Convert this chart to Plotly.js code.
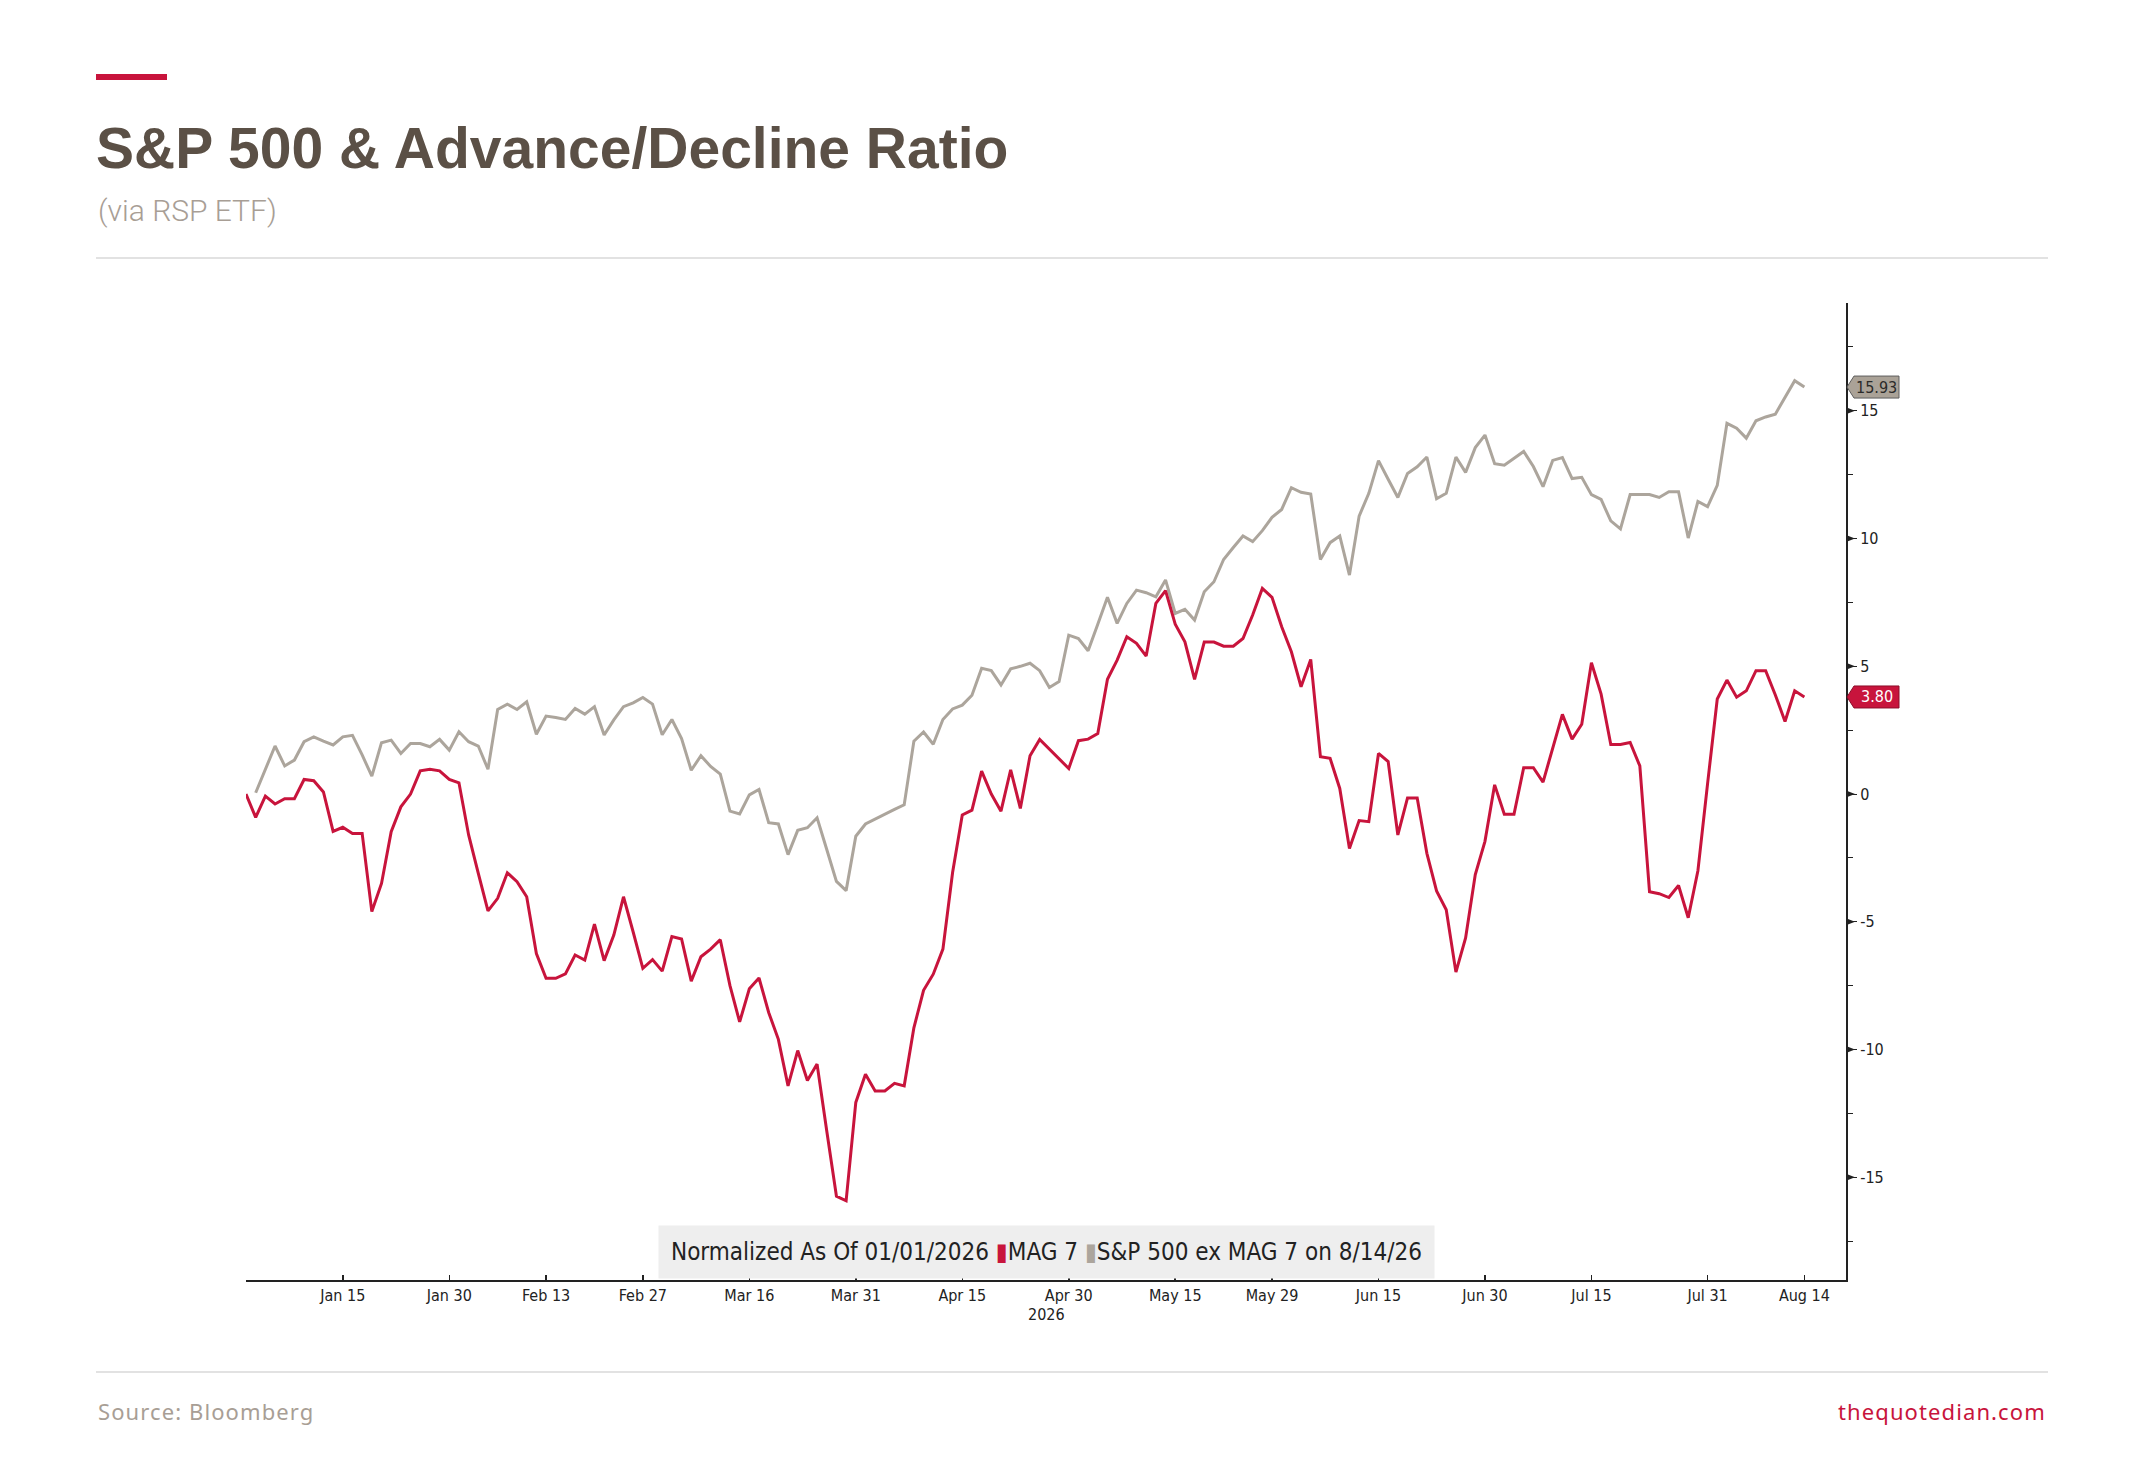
<!DOCTYPE html>
<html>
<head>
<meta charset="utf-8">
<script src="https://cdn.plot.ly/plotly-3.0.1.min.js"></script>
<style>
  html, body { margin: 0; padding: 0; background: #fff; }
  #chart { width: 2145px; height: 1458px; }
</style>
</head>
<body>
<div id="chart"></div>
<script>
// ── Data: normalized % change since 01/01/2026, one value per weekday ──
const mag7 = [
   0.00, -0.91, -0.08, -0.39, -0.18, -0.18,  0.57,  0.52,  0.08, -1.46,
  -1.30, -1.54, -1.54, -4.60, -3.50, -1.47, -0.50,  0.00,  0.91,  0.97,
   0.91,  0.57,  0.44, -1.60, -3.10, -4.57, -4.08, -3.08, -3.43, -4.02,
  -6.24, -7.21, -7.21, -7.04, -6.30, -6.50, -5.09, -6.52, -5.52, -4.02,
  -5.40, -6.82, -6.48, -6.93, -5.58, -5.67, -7.32, -6.37, -6.07, -5.70,
  -7.50, -8.92, -7.62, -7.20, -8.55, -9.60,-11.42,-10.04,-11.21,-10.57,
 -13.19,-15.74,-15.92,-12.07,-10.97,-11.62,-11.62,-11.32,-11.42, -9.15,
  -7.68, -7.05, -6.07, -3.07, -0.82, -0.63,  0.90,  0.00, -0.67,  0.95,
  -0.56,  1.50,  2.14,  1.76,  1.38,  1.00,  2.09,  2.15,  2.37,  4.49,
   5.24,  6.16,  5.90,  5.40,  7.46,  7.96,  6.65,  5.96,  4.49,  5.95,
   5.95,  5.79,  5.79,  6.09,  7.01,  8.05,  7.70,  6.55,  5.57,  4.20,
   5.27,  1.46,  1.40,  0.22, -2.13, -1.04, -1.08,  1.59,  1.27, -1.60,
  -0.15, -0.15, -2.32, -3.79, -4.53, -6.97, -5.63, -3.15, -1.85,  0.36,
  -0.79, -0.79,  1.03,  1.03,  0.47,  1.83,  3.12,  2.15,  2.73,  5.14,
   3.91,  1.94,  1.94,  2.02,  1.10, -3.82, -3.90, -4.05, -3.58, -4.84,
  -3.00,  0.41,  3.72,  4.46,  3.79,  4.04,  4.83,  4.83,  3.88,  2.84,
   4.04,  3.80
];
const exMag7 = [
   null,  0.05,  0.97,  1.88,  1.10,  1.33,  2.05,  2.24,  2.07,  1.92,
   2.24,  2.30,  1.53,  0.70,  2.01,  2.11,  1.59,  1.98,  1.98,  1.85,
   2.14,  1.72,  2.44,  2.05,  1.88,  0.97,  3.31,  3.52,  3.31,  3.61,
   2.34,  3.05,  3.00,  2.92,  3.35,  3.13,  3.42,  2.31,  2.90,  3.42,
   3.57,  3.78,  3.52,  2.32,  2.92,  2.17,  0.93,  1.50,  1.08,  0.78,
  -0.67, -0.78, -0.03,  0.18, -1.12, -1.17, -2.37, -1.42, -1.32, -0.93,
  -2.17, -3.42, -3.78, -1.65, -1.17, -0.97, -0.78, -0.60, -0.42,  2.07,
   2.43,  1.95,  2.92,  3.33,  3.48,  3.87,  4.92,  4.83,  4.27,  4.90,
   5.00,  5.12,  4.83,  4.17,  4.40,  6.22,  6.09,  5.61,  6.65,  7.70,
   6.68,  7.46,  7.98,  7.88,  7.72,  8.38,  7.07,  7.23,  6.81,  7.92,
   8.31,  9.18,  9.65, 10.10,  9.88, 10.31, 10.83, 11.14, 11.99, 11.81,
  11.74,  9.18,  9.84, 10.10,  8.57, 10.88, 11.77, 13.05, 12.32, 11.61,
  12.55, 12.81, 13.19, 11.56, 11.77, 13.19, 12.59, 13.56, 14.05, 12.93,
  12.87, 13.14, 13.41, 12.82, 12.03, 13.06, 13.17, 12.35, 12.40, 11.72,
  11.53, 10.69, 10.38, 11.72, 11.72, 11.72, 11.61, 11.83, 11.83, 10.02,
  11.45, 11.25, 12.08, 14.51, 14.32, 13.93, 14.61, 14.76, 14.87, 15.54,
  16.18, 15.93
];

// x categories: every weekday from Jan 1 to Aug 14, 2026
const dates = [];
for (let d = new Date(Date.UTC(2026, 0, 1)); d <= new Date(Date.UTC(2026, 7, 14)); d.setUTCDate(d.getUTCDate() + 1)) {
  const wd = d.getUTCDay();
  if (wd !== 0 && wd !== 6) dates.push(d.toISOString().slice(0, 10));
}

const tickDates  = ['2026-01-15','2026-01-30','2026-02-13','2026-02-27','2026-03-16','2026-03-31','2026-04-15',
                    '2026-04-30','2026-05-15','2026-05-29','2026-06-15','2026-06-30','2026-07-15','2026-07-31','2026-08-14'];
const tickLabels = ['Jan 15','Jan 30','Feb 13','Feb 27','Mar 16','Mar 31','Apr 15',
                    'Apr 30','May 15','May 29','Jun 15','Jun 30','Jul 15','Jul 31','Aug 14'];
const yearLabel = '2026';
const yTicks = [-15, -10, -5, 0, 5, 10, 15];

// ── Styling ─────────────────────────────────────────────────────────────
const RED = '#c8143c', GREY = '#aca59c', INK = '#222222';
const AX_FONT = 'DejaVu Sans Condensed, Liberation Sans Narrow, DejaVu Sans, sans-serif';
const W = 2145, H = 1458;
const M = { l: 246, r: 299, t: 303, b: 178 };
const plotW = W - M.l - M.r, plotH = H - M.t - M.b;
const xRange = [0, 165.3];
const yRange = [-19.02, 19.22];
const unitPx = plotH / (yRange[1] - yRange[0]);

// pixel -> paper helpers for the page furniture around the plot
const px = x => (x - M.l) / plotW;
const py = y => (H - M.b - y) / plotH;

// boundary ticks halfway between labelled dates (Bloomberg style)
const tickIdx = tickDates.map(t => dates.indexOf(t));
const boundaries = [tickIdx[0] - 5.5];
for (let i = 0; i < tickIdx.length - 1; i++) boundaries.push((tickIdx[i] + tickIdx[i + 1]) / 2);

const traces = [
  { type: 'scatter', mode: 'lines', x: dates, y: exMag7, name: 'S&P 500 ex MAG 7',
    line: { color: GREY, width: 3 }, hoverinfo: 'skip', showlegend: false },
  { type: 'scatter', mode: 'lines', x: dates, y: mag7, name: 'MAG 7',
    line: { color: RED, width: 3 }, hoverinfo: 'skip', showlegend: false }
];

const shapes = [
  // header accent + rules
  { type: 'rect', xref: 'paper', yref: 'paper', x0: px(96), x1: px(167), y0: py(74), y1: py(80),
    fillcolor: RED, line: { width: 0 } },
  { type: 'line', xref: 'paper', yref: 'paper', x0: px(96), x1: px(2048), y0: py(258), y1: py(258),
    line: { color: '#d9d9d9', width: 1.5 } },
  { type: 'line', xref: 'paper', yref: 'paper', x0: px(96), x1: px(2048), y0: py(1372), y1: py(1372),
    line: { color: '#d9d9d9', width: 1.5 } }
];
// little arrowheads on the labelled y ticks
const triH = 3.5 / unitPx, triW = 9 / plotW;
yTicks.forEach(v => shapes.push({
  type: 'path', xref: 'paper', yref: 'y', fillcolor: INK, line: { width: 0 },
  path: `M 1,${v + triH} L ${1 + triW},${v} L 1,${v - triH} Z`
}));

// last-value tags on the right axis
const annotations = [];
const lastTag = (v, fill, border, txt) => {
  const h = 11 / unitPx, tip = 1 + 1 / plotW, b0 = 1 + 8 / plotW, b1 = 1 + 53 / plotW;
  shapes.push({ type: 'path', xref: 'paper', yref: 'y', fillcolor: fill, line: { color: border, width: 1 },
    path: `M ${tip},${v} L ${b0},${v + h} L ${b1},${v + h} L ${b1},${v - h} L ${b0},${v - h} Z` });
  annotations.push({ xref: 'paper', yref: 'y', x: 1 + 31 / plotW, y: v, text: v.toFixed(2), showarrow: false,
    xanchor: 'center', yanchor: 'middle', font: { family: AX_FONT, size: 16, color: txt } });
};
lastTag(exMag7[exMag7.length - 1], '#aaa297', '#5e5e5e', '#2a2a2a');
lastTag(mag7[mag7.length - 1], RED, '#8c0e2a', '#ffffff');

const spaced = s => '<span style="letter-spacing:1.1px">' + s + '</span>';
annotations.push(
  { xref: 'paper', yref: 'paper', x: px(96), y: py(210), xanchor: 'left', yanchor: 'middle', showarrow: false,
    text: '(via RSP ETF)', font: { family: 'Roboto, Liberation Sans, sans-serif', size: 30, weight: 300, color: '#a89e95' } },
  { xref: 'paper', yref: 'paper', x: px(96), y: py(1411), xanchor: 'left', yanchor: 'middle', showarrow: false,
    text: spaced('Source: Bloomberg'), font: { family: 'Noto Sans, sans-serif', size: 22, color: '#a89e95' } },
  { xref: 'paper', yref: 'paper', x: px(2048), y: py(1411), xanchor: 'right', yanchor: 'middle', showarrow: false,
    text: spaced('thequotedian.com'), font: { family: 'Noto Sans, sans-serif', size: 22, color: RED } },
  { xref: 'paper', yref: 'paper', x: 0.5, y: py(1314), xanchor: 'center', yanchor: 'middle', showarrow: false,
    text: yearLabel, font: { family: AX_FONT, size: 16, color: INK } },
  { xref: 'paper', yref: 'paper', x: 0.5, y: 0, xanchor: 'center', yanchor: 'bottom', yshift: 1, showarrow: false,
    bgcolor: '#eeeeee', borderpad: 12,
    text: 'Normalized As Of 01/01/2026 <span style="color:' + RED + '">▮</span>MAG 7 ' +
          '<span style="color:' + GREY + '">▮</span>S&P 500 ex MAG 7 on 8/14/26',
    font: { family: AX_FONT, size: 24, color: INK } }
);

const layout = {
  width: W, height: H,
  margin: M,
  paper_bgcolor: '#ffffff', plot_bgcolor: '#ffffff',
  title: {
    text: 'S&P 500 & Advance/Decline Ratio',
    xref: 'container', yref: 'container', x: 96 / W, xanchor: 'left', y: 1 - 148 / H, yanchor: 'middle',
    font: { family: 'Liberation Sans, Arial, sans-serif', size: 57, weight: 'bold', color: '#5b5046' }
  },
  xaxis: {
    type: 'category', range: xRange, fixedrange: true,
    tickmode: 'array', tickvals: tickDates, ticktext: tickLabels,
    ticks: 'inside', ticklen: 5, tickwidth: 1.5, tickcolor: INK,
    showline: true, linecolor: INK, linewidth: 2, showgrid: false, zeroline: false,
    tickfont: { family: AX_FONT, size: 16, color: INK }
  },
  xaxis2: {
    type: 'linear', overlaying: 'x', anchor: 'y', range: xRange, fixedrange: true,
    tickmode: 'array', tickvals: boundaries, ticks: 'outside', ticklen: 8, tickwidth: 1.5, tickcolor: INK,
    showticklabels: false, showgrid: false, zeroline: false, showline: false
  },
  yaxis: {
    side: 'right', range: yRange, fixedrange: true,
    tickmode: 'array', tickvals: yTicks, ticktext: yTicks.map(String),
    ticks: 'outside', ticklen: 9, tickwidth: 1, tickcolor: INK,
    minor: { tick0: 2.5, dtick: 5, ticks: 'outside', ticklen: 5, tickcolor: INK, tickwidth: 1 },
    showline: true, linecolor: INK, linewidth: 2, showgrid: false, zeroline: false,
    tickfont: { family: AX_FONT, size: 16, color: INK }
  },
  shapes, annotations,
  showlegend: false
};

Plotly.newPlot('chart', traces, layout, { displayModeBar: false, staticPlot: true });
</script>
</body>
</html>
